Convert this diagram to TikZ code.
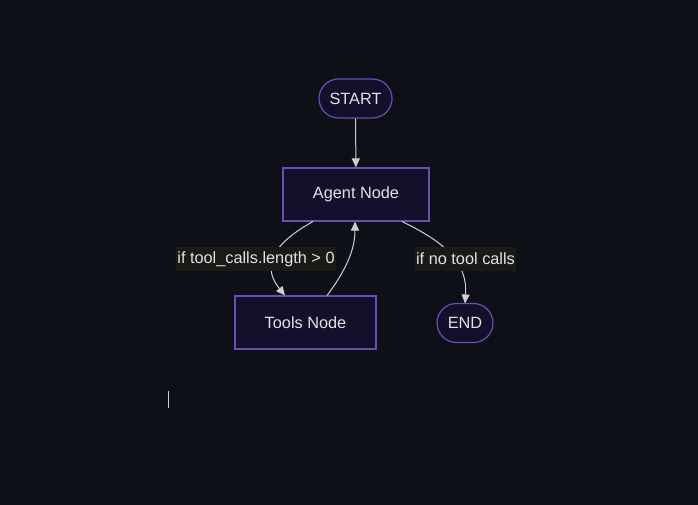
\documentclass[tikz,border=0pt]{standalone}
\usepackage{fontspec}
\setmainfont{Liberation Sans}
\usetikzlibrary{arrows.meta,shapes.misc}
\definecolor{bgc}{HTML}{0D1017}
\definecolor{nodefill}{HTML}{12102A}
\definecolor{nodeborder}{HTML}{6C4DB4}
\definecolor{txt}{HTML}{E2E2E6}
\definecolor{edgec}{HTML}{CFCFD2}
\definecolor{lblbg}{HTML}{1A1A16}
\tikzset{
  x=1pt,y=-1pt,
  every node/.style={font=\fontsize{16.3}{19}\selectfont, text=txt},
  boxnode/.style={draw=nodeborder, fill=nodefill, line width=1.2pt, minimum width=146pt, minimum height=53pt, inner sep=0pt},
  termnode/.style={draw=nodeborder, fill=nodefill, line width=1.2pt, rounded rectangle, minimum height=39pt, inner sep=0pt},
  edge/.style={draw=edgec, line width=1pt, -{Triangle[length=9pt,width=8pt]}},
  lbl/.style={fill=lblbg, inner xsep=1pt, inner ysep=0pt, minimum height=24pt}
}
\begin{document}
\begin{tikzpicture}
\fill[bgc] (0,0) rectangle (698,505);
\useasboundingbox (0,0) rectangle (698,505);
\node[termnode, minimum width=73pt] (start) at (355.5,98.5) {START};
\node[boxnode] (agent) at (356,194.5) {Agent Node};
\node[boxnode, minimum width=141pt] (tools) at (305.5,322.5) {Tools Node};
\node[termnode, minimum width=56pt] (end) at (465,323) {END};
\draw[edge] (start) -- (agent);
\coordinate (a1) at (313,221.5);
\coordinate (t1) at (285,295.5);
\coordinate (t2) at (327,295.5);
\coordinate (a2) at (355,221.5);
\coordinate (a3) at (402,221.5);
\coordinate (e1) at (465,303.5);
\draw[edge] (a1) .. controls (280,240) and (258,262) .. (t1);
\draw[edge] (t2) .. controls (350,265) and (355,245) .. (a2);
\draw[edge] (a3) .. controls (440,240) and (468,260) .. (e1);
\node[lbl] (l1) at (256,259) {if tool\_calls.length > 0};
\node[lbl] (l2) at (465.5,259) {if no tool calls};
\coordinate (c1) at (168.5,391);
\coordinate (c2) at (168.5,408);
\draw[edgec, line width=1pt] (c1) -- (c2);
\end{tikzpicture}
\end{document}
